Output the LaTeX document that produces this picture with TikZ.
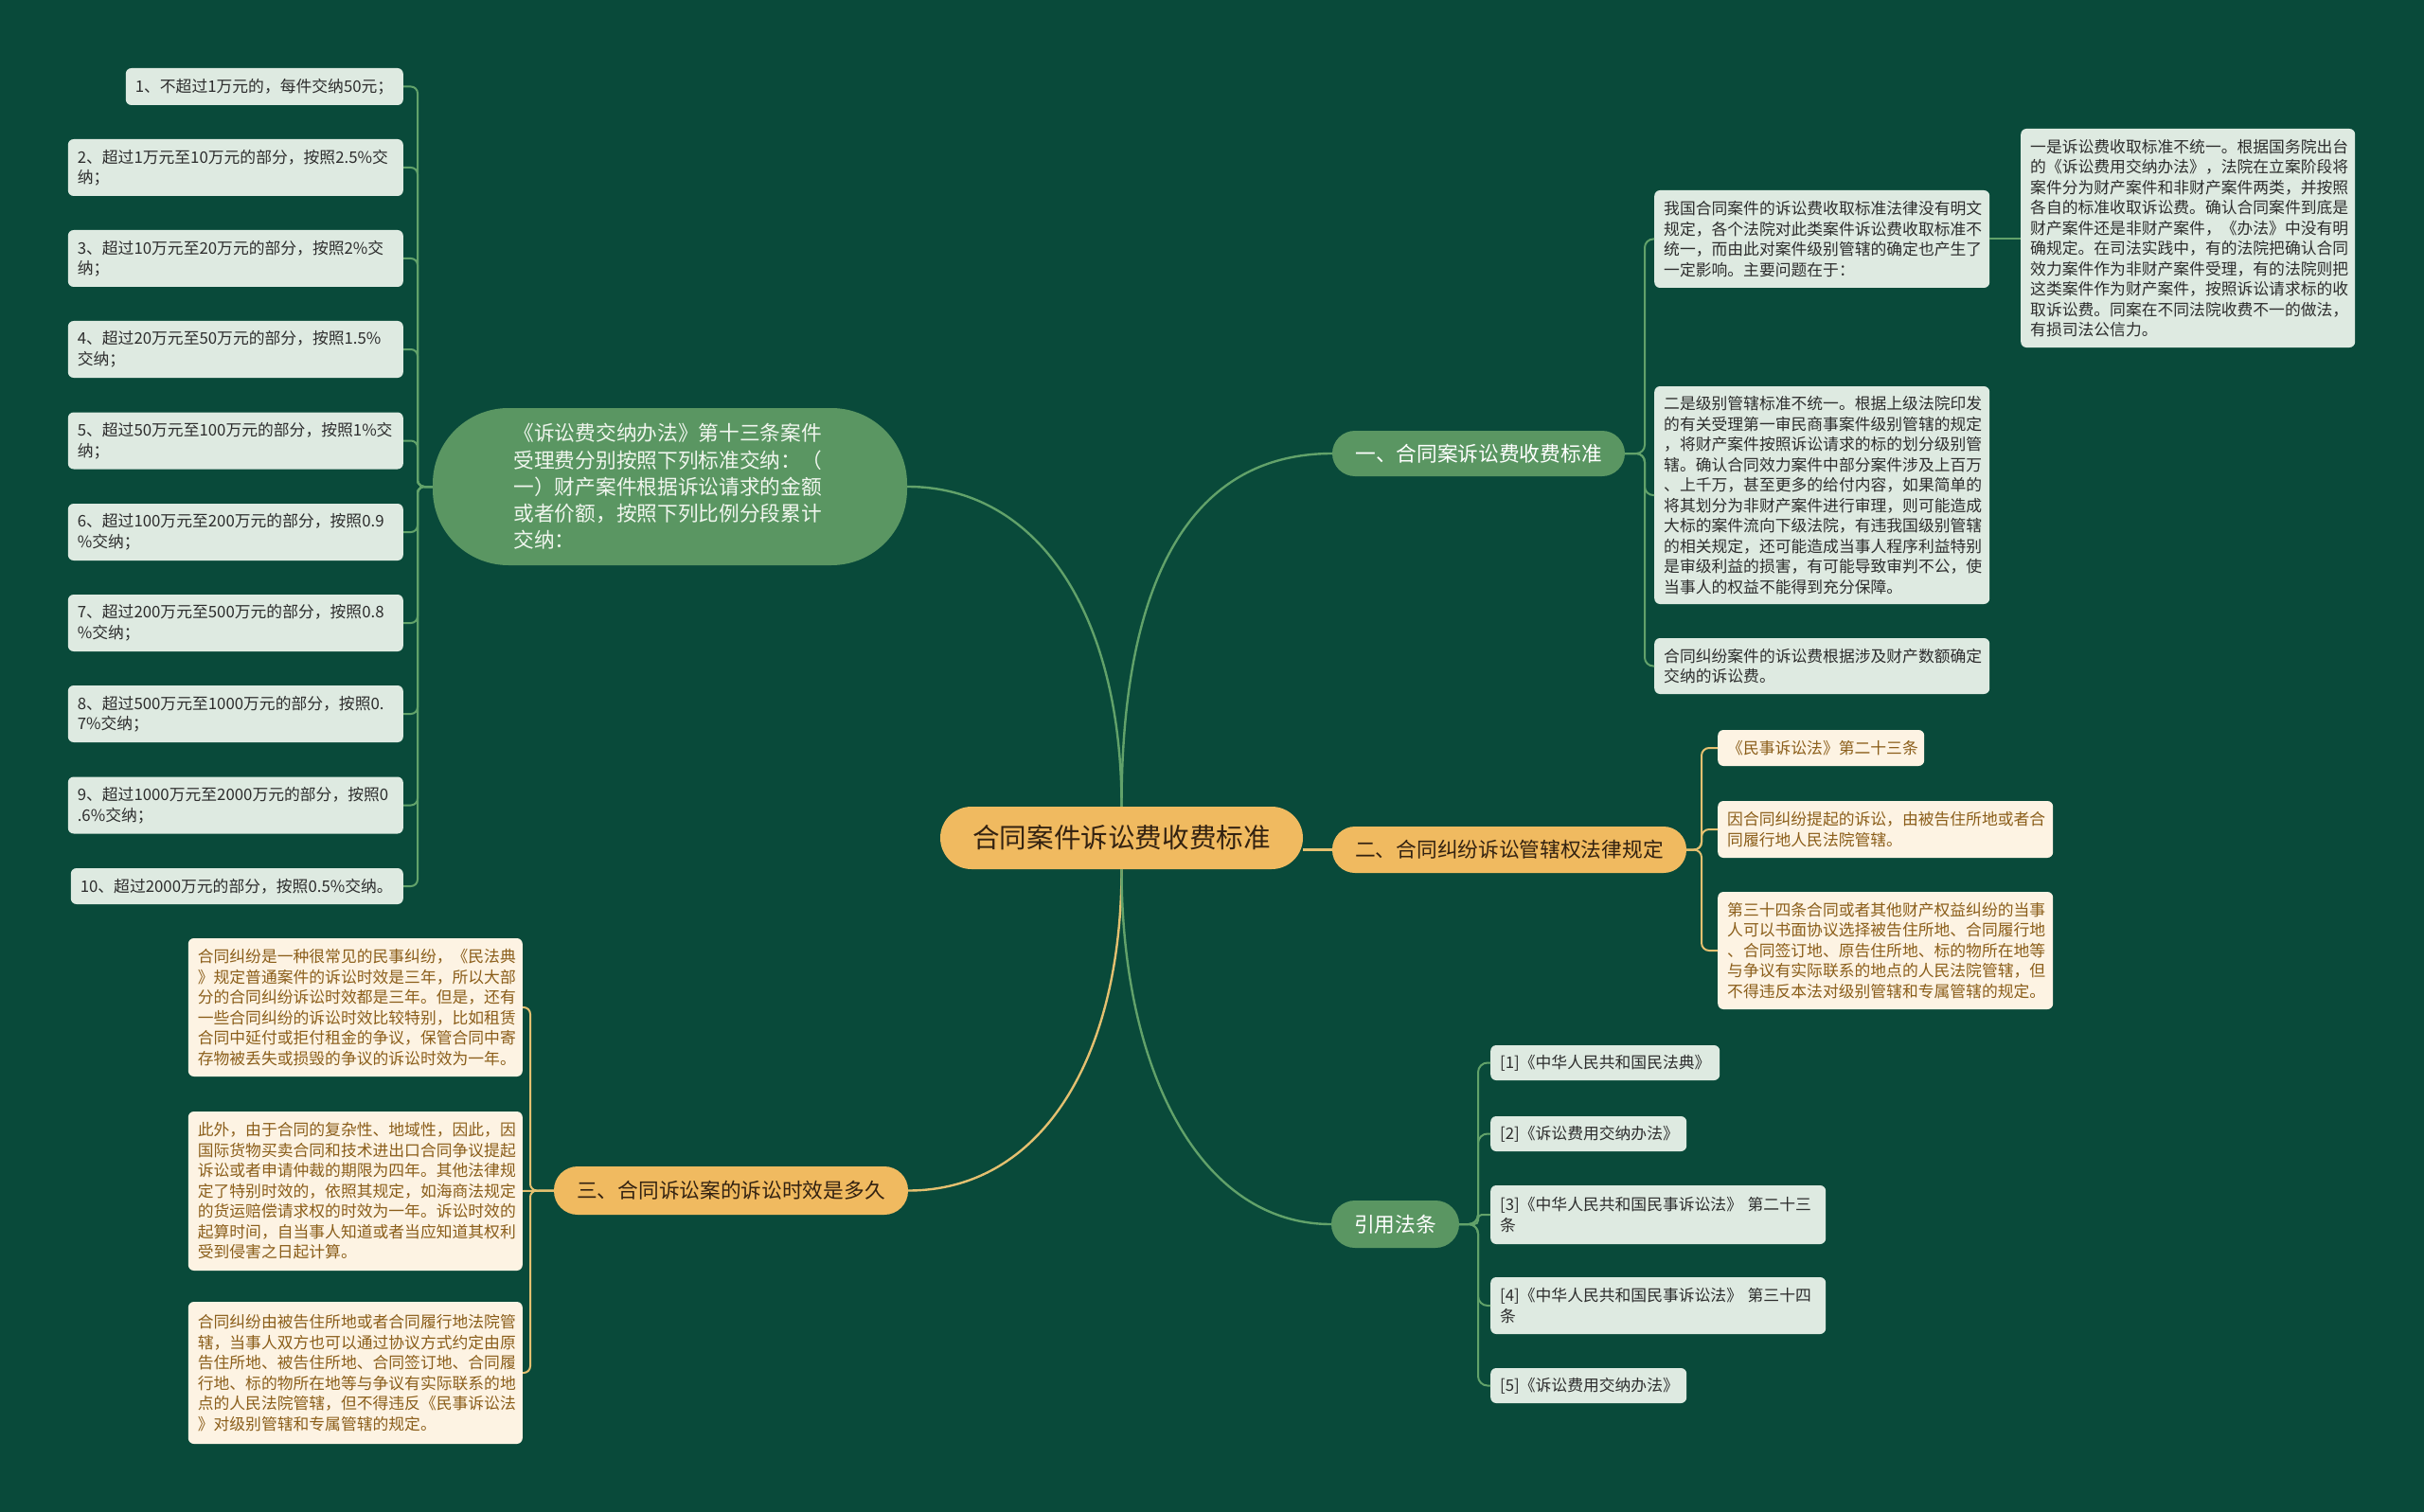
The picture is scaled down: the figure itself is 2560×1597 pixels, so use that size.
\documentclass[tikz,border=0pt]{standalone}
\usepackage{fontspec}
\setmainfont{Noto Sans CJK SC}
\usetikzlibrary{calc}
\definecolor{bg}{RGB}{9,74,58}
\definecolor{pillG}{RGB}{90,150,98}
\definecolor{pillO}{RGB}{240,186,96}
\definecolor{pillOT}{RGB}{51,34,17}
\definecolor{leafG}{RGB}{222,234,225}
\definecolor{leafGT}{RGB}{45,45,45}
\definecolor{cream}{RGB}{253,243,227}
\definecolor{creamT}{RGB}{139,94,26}
\definecolor{lineG}{RGB}{98,162,106}
\definecolor{lineO}{RGB}{228,192,112}
\definecolor{bigT}{RGB}{240,246,238}
\begin{document}
\begin{tikzpicture}[x=1pt,y=-1pt,
  pillg/.style={fill=pillG, text=white, inner sep=0pt, font=\fontsize{21.7}{28}\selectfont},
  pillo/.style={fill=pillO, text=pillOT, inner sep=0pt, font=\fontsize{21.7}{28}\selectfont},
  leafg/.style={fill=leafG, text=leafGT, rounded corners=6pt, inner xsep=10pt, inner ysep=0pt, align=left, font=\fontsize{16.8}{21.5}\selectfont},
  leafc/.style={fill=cream, text=creamT, rounded corners=6pt, inner xsep=10pt, inner ysep=0pt, align=left, font=\fontsize{16.8}{21.5}\selectfont},
  gmain/.style={draw=lineG, line width=2.4pt},
  omain/.style={draw=lineO, line width=2.4pt},
  gleaf/.style={draw=lineG, line width=2pt},
  oleaf/.style={draw=lineO, line width=2pt}]
\fill[bg] (0,0) rectangle (2560,1597);
\useasboundingbox (0,0) rectangle (2560,1597);

% centre and main branches
\node[pillo, minimum width=383pt, minimum height=66pt, rounded corners=33pt, font=\fontsize{28.6}{34}\selectfont] (c) at (1184.5,885) {合同案件诉讼费收费标准};
\node[pillg, minimum width=501pt, minimum height=166pt, rounded corners=80pt, text width=330pt, inner xsep=85.5pt, align=left, font=\fontsize{21.7}{28.3}\selectfont, text=bigT] (big) at (707.5,514) {《诉讼费交纳办法》第十三条案件\\受理费分别按照下列标准交纳：（\\一）财产案件根据诉讼请求的金额\\或者价额，按照下列比例分段累计\\交纳：};
\node[pillg, minimum width=309pt, minimum height=48pt, rounded corners=24pt] (b1) at (1561.5,479) {一、合同案诉讼费收费标准};
\node[pillo, minimum width=374pt, minimum height=49pt, rounded corners=24pt] (b2) at (1594,897.5) {二、合同纠纷诉讼管辖权法律规定};
\node[pillo, minimum width=374pt, minimum height=51pt, rounded corners=25pt] (b3) at (772,1257.5) {三、合同诉讼案的诉讼时效是多久};
\node[pillg, minimum width=135pt, minimum height=50pt, rounded corners=25pt] (b4) at (1473.5,1293) {引用法条};

% left column leaves
\node[leafg, anchor=east, text width=273pt, minimum height=39pt] (L1) at (426,91.5) {1、不超过1万元的，每件交纳50元；};
\node[leafg, anchor=east, text width=334pt, minimum height=60pt] (L2) at (426,177) {2、超过1万元至10万元的部分，按照2.5\%交\\纳；};
\node[leafg, anchor=east, text width=334pt, minimum height=60pt] (L3) at (426,273) {3、超过10万元至20万元的部分，按照2\%交\\纳；};
\node[leafg, anchor=east, text width=334pt, minimum height=60pt] (L4) at (426,369) {4、超过20万元至50万元的部分，按照1.5\%\\交纳；};
\node[leafg, anchor=east, text width=334pt, minimum height=60pt] (L5) at (426,465.5) {5、超过50万元至100万元的部分，按照1\%交\\纳；};
\node[leafg, anchor=east, text width=334pt, minimum height=60pt] (L6) at (426,562) {6、超过100万元至200万元的部分，按照0.9\\\%交纳；};
\node[leafg, anchor=east, text width=334pt, minimum height=60pt] (L7) at (426,658) {7、超过200万元至500万元的部分，按照0.8\\\%交纳；};
\node[leafg, anchor=east, text width=334pt, minimum height=60pt] (L8) at (426,754) {8、超过500万元至1000万元的部分，按照0.\\7\%交纳；};
\node[leafg, anchor=east, text width=334pt, minimum height=60pt] (L9) at (426,850.5) {9、超过1000万元至2000万元的部分，按照0\\.6\%交纳；};
\node[leafg, anchor=east, text width=331pt, minimum height=38pt] (L10) at (426,936) {10、超过2000万元的部分，按照0.5\%交纳。};

% branch 1 leaves
\node[leafg, anchor=west, text width=334pt, minimum height=103pt] (R1a) at (1747,252.5) {我国合同案件的诉讼费收取标准法律没有明文\\规定，各个法院对此类案件诉讼费收取标准不\\统一，而由此对案件级别管辖的确定也产生了\\一定影响。主要问题在于：};
\node[leafg, anchor=west, text width=333pt, minimum height=231pt] (R1a1) at (2134,251.5) {一是诉讼费收取标准不统一。根据国务院出台\\的《诉讼费用交纳办法》，法院在立案阶段将\\案件分为财产案件和非财产案件两类，并按照\\各自的标准收取诉讼费。确认合同案件到底是\\财产案件还是非财产案件，《办法》中没有明\\确规定。在司法实践中，有的法院把确认合同\\效力案件作为非财产案件受理，有的法院则把\\这类案件作为财产案件，按照诉讼请求标的收\\取诉讼费。同案在不同法院收费不一的做法，\\有损司法公信力。};
\node[leafg, anchor=west, text width=334pt, minimum height=230pt] (R1b) at (1747,523) {二是级别管辖标准不统一。根据上级法院印发\\的有关受理第一审民商事案件级别管辖的规定\\，将财产案件按照诉讼请求的标的划分级别管\\辖。确认合同效力案件中部分案件涉及上百万\\、上千万，甚至更多的给付内容，如果简单的\\将其划分为非财产案件进行审理，则可能造成\\大标的案件流向下级法院，有违我国级别管辖\\的相关规定，还可能造成当事人程序利益特别\\是审级利益的损害，有可能导致审判不公，使\\当事人的权益不能得到充分保障。};
\node[leafg, anchor=west, text width=334pt, minimum height=59pt] (R1c) at (1747,703.5) {合同纠纷案件的诉讼费根据涉及财产数额确定\\交纳的诉讼费。};

% branch 2 leaves
\node[leafc, anchor=west, text width=198pt, minimum height=38pt] (R2a) at (1814,790) {《民事诉讼法》第二十三条};
\node[leafc, anchor=west, text width=334pt, minimum height=60pt] (R2b) at (1814,876) {因合同纠纷提起的诉讼，由被告住所地或者合\\同履行地人民法院管辖。};
\node[leafc, anchor=west, text width=334pt, minimum height=124pt] (R2c) at (1814,1004) {第三十四条合同或者其他财产权益纠纷的当事\\人可以书面协议选择被告住所地、合同履行地\\、合同签订地、原告住所地、标的物所在地等\\与争议有实际联系的地点的人民法院管辖，但\\不得违反本法对级别管辖和专属管辖的规定。};

% branch 3 leaves
\node[leafc, anchor=east, text width=333pt, minimum height=146pt] (L3a) at (552,1064) {合同纠纷是一种很常见的民事纠纷，《民法典\\》规定普通案件的诉讼时效是三年，所以大部\\分的合同纠纷诉讼时效都是三年。但是，还有\\一些合同纠纷的诉讼时效比较特别，比如租赁\\合同中延付或拒付租金的争议，保管合同中寄\\存物被丢失或损毁的争议的诉讼时效为一年。};
\node[leafc, anchor=east, text width=333pt, minimum height=168pt] (L3b) at (552,1258) {此外，由于合同的复杂性、地域性，因此，因\\国际货物买卖合同和技术进出口合同争议提起\\诉讼或者申请仲裁的期限为四年。其他法律规\\定了特别时效的，依照其规定，如海商法规定\\的货运赔偿请求权的时效为一年。诉讼时效的\\起算时间，自当事人知道或者当应知道其权利\\受到侵害之日起计算。};
\node[leafc, anchor=east, text width=333pt, minimum height=150pt] (L3c) at (552,1450) {合同纠纷由被告住所地或者合同履行地法院管\\辖，当事人双方也可以通过协议方式约定由原\\告住所地、被告住所地、合同签订地、合同履\\行地、标的物所在地等与争议有实际联系的地\\点的人民法院管辖，但不得违反《民事诉讼法\\》对级别管辖和专属管辖的规定。};

% branch 4 leaves
\node[leafg, anchor=west, text width=222pt, minimum height=37pt] (R4a) at (1574,1122.5) {[1]《中华人民共和国民法典》};
\node[leafg, anchor=west, text width=187pt, minimum height=37pt] (R4b) at (1574,1197.5) {[2]《诉讼费用交纳办法》};
\node[leafg, anchor=west, text width=334pt, minimum height=62pt] (R4c) at (1574,1283) {[3]《中华人民共和国民事诉讼法》 第二十三\\条};
\node[leafg, anchor=west, text width=334pt, minimum height=60pt] (R4d) at (1574,1379) {[4]《中华人民共和国民事诉讼法》 第三十四\\条};
\node[leafg, anchor=west, text width=187pt, minimum height=37pt] (R4e) at (1574,1463.5) {[5]《诉讼费用交纳办法》};

% trunk coordinates
\coordinate (tL) at (441,513);
\coordinate (t1) at (1737,479);
\coordinate (t2) at (1797,897.5);
\coordinate (t3) at (560,1257.5);
\coordinate (t4) at (1561,1293);

% main connectors
\draw[gmain] (c.north) .. controls +(0,-200) and +(140,0) .. (big.east);
\draw[gmain] (c.north) .. controls +(0,-220) and +(-160,0) .. (b1.west);
\draw[omain] (c.east |- b2.west) -- (b2.west);
\draw[omain] (c.south) .. controls +(0,200) and +(140,0) .. (b3.east);
\draw[gmain] (c.south) .. controls +(0,210) and +(-140,0) .. (b4.west);

% left column
\foreach \n in {L1,L2,L3,L4,L5,L6,L7,L8,L9,L10}
  \draw[gleaf, rounded corners=7pt] (big.west) -- (big.west -| tL) |- (\n.east);

% branch 1
\foreach \n in {R1a,R1b,R1c}
  \draw[gleaf, rounded corners=9pt] (b1.east) -- (b1.east -| t1) |- (\n.west);
\draw[gleaf] (R1a.east) -- (R1a.east -| R1a1.west);

% branch 2
\foreach \n in {R2a,R2b,R2c}
  \draw[oleaf, rounded corners=8pt] (b2.east) -- (b2.east -| t2) |- (\n.west);

% branch 3
\draw[oleaf, rounded corners=7pt] (b3.west) -- (b3.west -| t3) |- (L3a.east);
\draw[oleaf] (b3.west) -- (L3b.east);
\draw[oleaf, rounded corners=7pt] (b3.west) -- (b3.west -| t3) |- (L3c.east);

% branch 4
\foreach \n in {R4a,R4b,R4d,R4e}
  \draw[gleaf, rounded corners=10pt] (b4.east) -- (b4.east -| t4) |- (\n.west);
\draw[gleaf, rounded corners=4pt] (b4.east) -- (b4.east -| t4) |- (R4c.west);
\end{tikzpicture}
\end{document}
